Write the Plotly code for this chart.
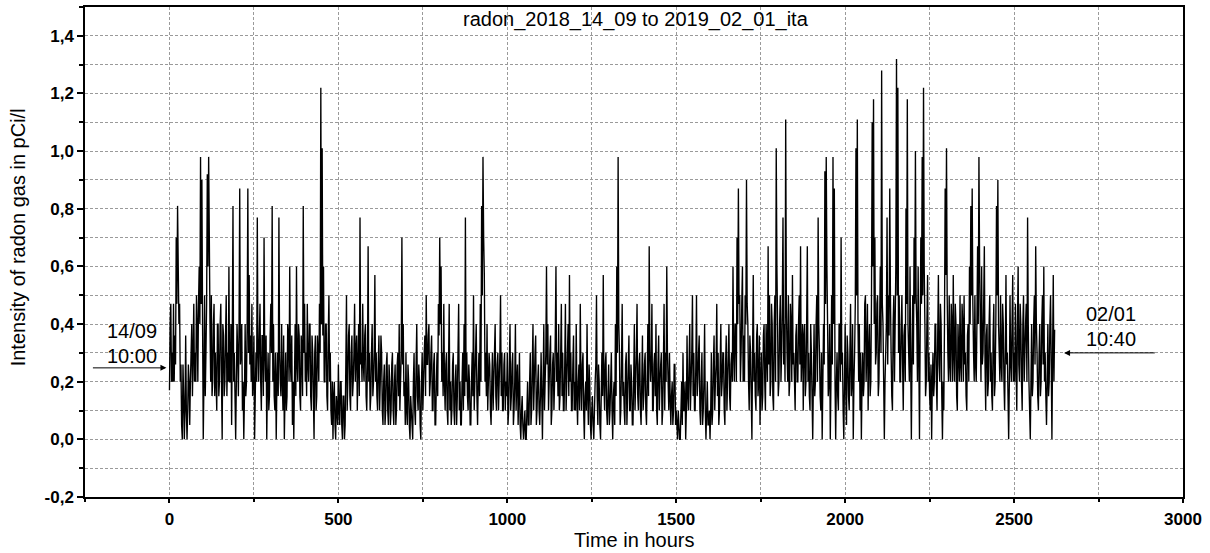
import plotly.graph_objects as go

# Radon intensity (pCi/l).
# "*_at4h" lists: readings at hours 0, 4, 8, ...; "*_mid" lists: readings at hours 2, 6, 10, ...
radon_0_500_at4h = [
    0.17,0.47,0.30,0.47,0.36,0.70,0.81,0.40,0.20,0.05,0.26,0.00,0.36,0.00,0.26,0.05,0.30,0.15,0.47,0.30,0.50,0.20,0.60,0.98,0.90,
    0.00,0.50,0.30,0.92,0.98,0.40,0.50,0.20,0.47,0.30,0.10,0.40,0.20,0.47,0.00,0.36,0.20,0.50,0.30,0.60,0.20,0.05,0.81,0.30,0.00,
    0.40,0.15,0.87,0.30,0.10,0.00,0.40,0.20,0.87,0.57,0.36,0.47,0.20,0.00,0.30,0.77,0.20,0.47,0.10,0.36,0.70,0.20,0.00,0.30,0.15,
    0.47,0.81,0.40,0.10,0.00,0.30,0.77,0.20,0.40,0.10,0.00,0.30,0.15,0.36,0.60,0.20,0.05,0.00,0.40,0.60,0.20,0.36,0.10,0.30,0.81,
    0.47,0.30,0.47,0.20,0.40,0.10,0.30,0.00,0.36,0.15,0.30,0.47,1.22,1.01,0.60,0.20,0.40,0.10,0.50,0.30,0.05,0.00,0.20,0.00,0.10,
]
radon_0_500_mid = [
    0.40,0.20,0.20,0.20,0.26,0.47,0.60,0.47,0.26,0.00,0.15,0.10,0.10,0.10,0.20,0.20,0.40,0.30,0.20,0.20,0.40,0.47,0.40,0.47,0.40,
    0.20,0.15,0.47,0.60,0.70,0.20,0.15,0.40,0.15,0.20,0.40,0.15,0.40,0.20,0.40,0.15,0.36,0.15,0.20,0.20,0.40,0.36,0.20,0.15,0.20,
    0.30,0.40,0.26,0.40,0.20,0.15,0.15,0.40,0.30,0.26,0.20,0.15,0.36,0.15,0.20,0.30,0.36,0.20,0.36,0.15,0.30,0.36,0.20,0.10,0.36,
    0.30,0.20,0.15,0.30,0.20,0.15,0.30,0.15,0.20,0.36,0.15,0.10,0.40,0.20,0.26,0.36,0.20,0.20,0.15,0.26,0.40,0.15,0.36,0.15,0.30,
    0.20,0.15,0.26,0.40,0.15,0.36,0.15,0.30,0.10,0.36,0.20,0.30,0.40,0.36,0.20,0.40,0.15,0.36,0.20,0.10,0.20,0.15,0.05,0.15,0.05,
]
radon_500_1000_at4h = [
    0.26,0.05,0.20,0.00,0.15,0.05,0.50,0.20,0.40,0.10,0.36,0.20,0.47,0.30,0.10,0.40,0.77,0.30,0.47,0.20,0.40,0.10,0.67,0.30,0.15,
    0.40,0.20,0.57,0.30,0.10,0.36,0.20,0.30,0.05,0.26,0.10,0.30,0.05,0.20,0.10,0.30,0.05,0.26,0.10,0.30,0.40,0.20,0.70,0.40,0.20,
    0.30,0.05,0.20,0.00,0.10,0.00,0.30,0.05,0.40,0.10,0.20,0.00,0.30,0.20,0.36,0.50,0.26,0.40,0.20,0.36,0.10,0.30,0.05,0.30,0.47,
    0.70,0.60,0.30,0.47,0.10,0.30,0.05,0.47,0.20,0.10,0.30,0.05,0.26,0.15,0.47,0.20,0.05,0.30,0.40,0.77,0.30,0.10,0.20,0.05,0.30,
    0.50,0.20,0.40,0.05,0.30,0.47,0.81,0.98,0.57,0.30,0.40,0.20,0.26,0.05,0.30,0.20,0.40,0.10,0.30,0.20,0.50,0.30,0.10,0.30,0.20,
]
radon_500_1000_mid = [
    0.10,0.20,0.05,0.15,0.00,0.26,0.10,0.36,0.15,0.30,0.15,0.30,0.20,0.36,0.26,0.15,0.26,0.20,0.26,0.36,0.15,0.26,0.20,0.10,0.30,
    0.15,0.30,0.20,0.15,0.26,0.10,0.36,0.10,0.20,0.05,0.26,0.10,0.26,0.05,0.26,0.10,0.20,0.05,0.26,0.15,0.10,0.30,0.26,0.15,0.05,
    0.10,0.26,0.05,0.15,0.05,0.20,0.10,0.26,0.15,0.26,0.05,0.20,0.10,0.30,0.15,0.26,0.36,0.15,0.30,0.10,0.26,0.05,0.20,0.15,0.36,
    0.40,0.20,0.15,0.20,0.26,0.10,0.26,0.10,0.05,0.26,0.10,0.20,0.05,0.30,0.10,0.05,0.20,0.10,0.15,0.20,0.15,0.26,0.05,0.20,0.15,
    0.10,0.30,0.15,0.20,0.15,0.20,0.50,0.70,0.20,0.15,0.10,0.30,0.10,0.20,0.10,0.30,0.15,0.26,0.10,0.30,0.15,0.10,0.26,0.10,0.15,
]
radon_1000_1500_at4h = [
    0.30,0.10,0.40,0.15,0.30,0.10,0.40,0.20,0.05,0.30,0.00,0.15,0.00,0.10,0.00,0.20,0.05,0.30,0.10,0.40,0.20,0.36,0.10,0.26,0.05,
    0.30,0.00,0.40,0.20,0.60,0.40,0.20,0.36,0.10,0.30,0.20,0.60,0.30,0.40,0.15,0.47,0.30,0.10,0.47,0.20,0.40,0.57,0.30,0.10,0.36,
    0.20,0.40,0.05,0.26,0.47,0.10,0.30,0.00,0.20,0.40,0.05,0.20,0.00,0.15,0.00,0.20,0.50,0.05,0.20,0.00,0.30,0.57,0.10,0.30,0.05,
    0.26,0.10,0.30,0.00,0.20,0.40,0.60,0.98,0.30,0.10,0.47,0.20,0.05,0.30,0.15,0.36,0.10,0.20,0.05,0.40,0.20,0.47,0.10,0.30,0.05,
    0.36,0.15,0.30,0.05,0.40,0.67,0.20,0.47,0.10,0.30,0.40,0.05,0.36,0.20,0.30,0.10,0.47,0.30,0.60,0.20,0.30,0.05,0.20,0.10,0.26,
]
radon_1000_1500_mid = [
    0.05,0.26,0.10,0.26,0.05,0.20,0.10,0.26,0.15,0.05,0.10,0.05,0.05,0.00,0.10,0.05,0.20,0.05,0.26,0.10,0.30,0.05,0.20,0.10,0.15,
    0.15,0.20,0.10,0.30,0.26,0.10,0.30,0.05,0.26,0.10,0.36,0.20,0.15,0.10,0.30,0.15,0.10,0.26,0.10,0.30,0.15,0.20,0.10,0.26,0.10,
    0.10,0.15,0.20,0.10,0.20,0.26,0.10,0.15,0.10,0.15,0.26,0.05,0.10,0.05,0.10,0.26,0.15,0.26,0.05,0.15,0.15,0.20,0.26,0.10,0.15,
    0.05,0.20,0.10,0.15,0.05,0.15,0.30,0.40,0.05,0.26,0.15,0.10,0.26,0.05,0.26,0.10,0.26,0.05,0.20,0.10,0.30,0.15,0.26,0.10,0.20,
    0.10,0.26,0.10,0.20,0.15,0.30,0.26,0.10,0.26,0.15,0.10,0.26,0.10,0.26,0.05,0.26,0.10,0.20,0.30,0.10,0.15,0.15,0.05,0.26,0.05,
]
radon_1500_2000_at4h = [
    0.10,0.00,0.05,0.00,0.20,0.30,0.10,0.00,0.36,0.10,0.40,0.20,0.50,0.30,0.10,0.50,0.20,0.36,0.05,0.30,0.10,0.40,0.00,0.20,0.05,
    0.00,0.30,0.10,0.36,0.20,0.47,0.30,0.10,0.40,0.20,0.30,0.05,0.36,0.20,0.40,0.10,0.30,0.60,0.20,0.40,0.70,0.87,0.50,0.30,0.60,
    0.36,0.50,0.90,0.40,0.10,0.30,0.00,0.57,0.30,0.10,0.40,0.20,0.05,0.30,0.15,0.40,0.10,0.30,0.67,0.50,0.20,0.40,0.10,0.50,1.01,
    0.40,0.20,0.50,0.30,0.77,0.40,1.11,0.30,0.50,0.20,0.40,0.57,0.30,0.10,0.40,0.20,0.50,0.67,0.30,0.10,0.40,0.20,0.67,0.30,0.10,
    0.30,0.00,0.40,0.20,0.50,0.77,0.30,0.10,0.00,0.40,0.93,0.98,0.40,0.20,0.00,0.50,0.98,0.87,0.00,0.30,0.10,0.40,0.70,0.30,0.00,
]
radon_1500_2000_mid = [
    0.05,0.10,0.00,0.10,0.05,0.10,0.20,0.10,0.15,0.26,0.10,0.30,0.15,0.10,0.26,0.15,0.30,0.10,0.20,0.05,0.20,0.10,0.10,0.05,0.10,
    0.10,0.05,0.26,0.10,0.26,0.15,0.05,0.26,0.15,0.30,0.10,0.26,0.10,0.30,0.15,0.26,0.20,0.30,0.40,0.20,0.40,0.47,0.20,0.47,0.20,
    0.20,0.40,0.47,0.20,0.36,0.15,0.30,0.20,0.15,0.36,0.15,0.36,0.20,0.10,0.36,0.20,0.40,0.20,0.26,0.15,0.47,0.15,0.40,0.20,0.60,
    0.15,0.40,0.20,0.47,0.26,0.20,0.47,0.20,0.15,0.47,0.20,0.26,0.20,0.36,0.20,0.40,0.26,0.20,0.40,0.36,0.15,0.40,0.20,0.15,0.40,
    0.15,0.20,0.15,0.40,0.20,0.40,0.15,0.30,0.20,0.26,0.47,0.60,0.15,0.40,0.20,0.26,0.40,0.20,0.20,0.15,0.40,0.20,0.26,0.10,0.20,
]
radon_2000_2500_at4h = [
    0.40,0.05,0.30,0.10,0.47,0.20,0.00,0.30,1.01,1.11,0.20,0.10,0.00,0.30,0.20,0.50,0.30,0.10,0.40,0.20,1.10,1.18,0.70,0.30,0.50,
    0.20,0.60,1.28,0.40,0.00,0.30,0.77,0.50,0.87,0.30,0.10,0.50,0.40,1.32,1.22,0.50,0.20,0.50,0.10,0.40,0.80,1.18,0.30,0.60,0.00,
    0.50,0.70,1.00,0.40,0.60,0.00,0.70,0.98,1.22,0.40,0.20,0.57,0.30,0.10,0.00,0.30,0.20,0.40,0.10,0.57,0.20,0.40,0.00,0.10,0.87,
    1.01,0.30,0.50,0.20,0.40,0.57,0.20,0.40,0.10,0.30,0.50,0.20,0.40,0.50,0.30,0.10,0.40,0.60,0.81,0.87,0.30,0.50,0.20,0.67,0.98,
    0.40,0.60,0.30,0.67,0.10,0.40,0.20,0.50,0.30,0.10,0.47,0.20,0.81,0.90,0.30,0.50,0.20,0.40,0.10,0.57,0.30,0.00,0.50,0.20,0.57,
]
radon_2000_2500_mid = [
    0.15,0.36,0.15,0.30,0.15,0.40,0.20,0.47,0.50,0.40,0.40,0.30,0.20,0.15,0.47,0.20,0.47,0.30,0.15,0.50,0.60,0.40,0.26,0.47,0.15,
    0.40,0.30,0.47,0.20,0.20,0.40,0.26,0.36,0.50,0.15,0.40,0.20,0.60,0.50,0.30,0.20,0.40,0.26,0.36,0.20,0.47,0.40,0.20,0.26,0.30,
    0.26,0.47,0.50,0.20,0.30,0.36,0.47,0.50,0.60,0.15,0.40,0.20,0.15,0.26,0.20,0.15,0.40,0.20,0.36,0.26,0.47,0.15,0.20,0.40,0.57,
    0.50,0.20,0.26,0.47,0.20,0.30,0.47,0.15,0.40,0.20,0.26,0.47,0.20,0.26,0.15,0.36,0.20,0.40,0.50,0.47,0.20,0.26,0.40,0.40,0.60,
    0.20,0.26,0.47,0.26,0.36,0.15,0.40,0.20,0.15,0.36,0.15,0.40,0.50,0.40,0.20,0.26,0.47,0.20,0.30,0.26,0.15,0.20,0.26,0.40,0.20,
]
radon_2500_end_at4h = [
    0.30,0.47,0.10,0.60,0.20,0.40,0.10,0.50,0.30,0.47,0.77,0.20,0.00,0.40,0.20,0.50,0.67,0.30,0.10,0.40,0.20,0.50,0.60,0.30,0.05,
    0.40,0.20,0.50,0.00,0.57,0.38,
]
radon_2500_end_mid = [
    0.20,0.26,0.40,0.26,0.47,0.20,0.40,0.20,0.40,0.20,0.40,0.10,0.20,0.15,0.40,0.26,0.40,0.15,0.30,0.15,0.40,0.26,0.20,0.15,0.20,
    0.15,0.40,0.26,0.30,0.20,
]

STEP_HOURS = 2
at4h = (radon_0_500_at4h + radon_500_1000_at4h + radon_1000_1500_at4h +
        radon_1500_2000_at4h + radon_2000_2500_at4h + radon_2500_end_at4h)
mid = (radon_0_500_mid + radon_500_1000_mid + radon_1000_1500_mid +
       radon_1500_2000_mid + radon_2000_2500_mid + radon_2500_end_mid)
radon = []
for i, v in enumerate(at4h):
    radon.append(v)
    if i < len(mid):
        radon.append(mid[i])
hours = [STEP_HOURS * i for i in range(len(radon))]

y_tickvals = [-0.2, 0.0, 0.2, 0.4, 0.6, 0.8, 1.0, 1.2, 1.4]
y_ticktext = ["-0,2", "0,0", "0,2", "0,4", "0,6", "0,8", "1,0", "1,2", "1,4"]
x_tickvals = [0, 500, 1000, 1500, 2000, 2500, 3000]

title_text = "radon_2018_14_09 to 2019_02_01_ita"
x_title = "Time in hours"
y_title = "Intensity of radon gas in pCi/l"
start_label = ["14/09", "10:00"]
end_label = ["02/01", "10:40"]

FONT = "Liberation Sans, Arial, sans-serif"
GRID = "#9a9a9a"

fig = go.Figure()
fig.add_trace(go.Scatter(x=hours, y=radon, mode="lines",
                         line=dict(color="black", width=1.35, simplify=False),
                         showlegend=False, hoverinfo="skip"))

axis_common = dict(
    showline=True, linecolor="black", linewidth=1.5, mirror=True,
    showgrid=True, gridcolor=GRID, gridwidth=1, griddash="3px,2px",
    zeroline=False, ticks="outside", tickcolor="black",
    tickfont=dict(family=FONT, size=17, color="black", weight="bold"),
)

fig.update_xaxes(range=[-250, 3000], tickvals=x_tickvals, ticklen=4, tickwidth=1.5,
                 minor=dict(dtick=250, tick0=0, showgrid=True, gridcolor=GRID,
                            griddash="3px,2px", ticks="outside", ticklen=3, tickcolor="black"),
                 ticklabelstandoff=2, **axis_common)
fig.update_yaxes(range=[-0.2, 1.5], tickvals=y_tickvals, ticktext=y_ticktext, ticklen=6,
                 tickwidth=1.5,
                 minor=dict(dtick=0.1, tick0=0, showgrid=True, gridcolor=GRID,
                            griddash="3px,2px", ticks="outside", ticklen=4, tickcolor="black"),
                 ticklabelstandoff=0, **axis_common)

annotations = [
    dict(text=title_text, xref="paper", yref="paper", x=0.502, y=0.974,
         xanchor="center", yanchor="middle", showarrow=False,
         font=dict(family=FONT, size=20, color="black")),
    dict(text=x_title, xref="paper", yref="paper", x=0.5, y=-0.087,
         xanchor="center", yanchor="middle", showarrow=False,
         font=dict(family=FONT, size=20, color="black")),
    dict(text=y_title, xref="paper", yref="paper", x=-0.061, y=0.53,
         xanchor="center", yanchor="middle", showarrow=False, textangle=-90,
         font=dict(family=FONT, size=20, color="black")),
    dict(text=start_label[0], xref="x", yref="y", x=-110, y=0.376, showarrow=False,
         font=dict(family=FONT, size=20, color="black")),
    dict(text=start_label[1], xref="x", yref="y", x=-110, y=0.29, showarrow=False,
         font=dict(family=FONT, size=20, color="black")),
    dict(text="", xref="x", yref="y", x=-9, y=0.248, axref="x", ayref="y",
         ax=-231, ay=0.248, showarrow=True, arrowhead=2, arrowsize=1.2,
         arrowwidth=1, arrowcolor="black"),
    dict(text=end_label[0], xref="x", yref="y", x=2788, y=0.434, showarrow=False,
         font=dict(family=FONT, size=20, color="black")),
    dict(text=end_label[1], xref="x", yref="y", x=2788, y=0.348, showarrow=False,
         font=dict(family=FONT, size=20, color="black")),
    dict(text="", xref="x", yref="y", x=2648, y=0.30, axref="x", ayref="y",
         ax=2921, ay=0.30, showarrow=True, arrowhead=2, arrowsize=1.2,
         arrowwidth=1, arrowcolor="black"),
]

fig.update_layout(
    width=1210, height=553,
    margin=dict(l=85, r=27, t=5, b=56),
    paper_bgcolor="white", plot_bgcolor="white",
    font=dict(family=FONT, color="black"),
    annotations=annotations,
    showlegend=False,
)

fig.write_html("out.html", config={"displayModeBar": False},
               post_script="document.body.style.margin='0px';")
